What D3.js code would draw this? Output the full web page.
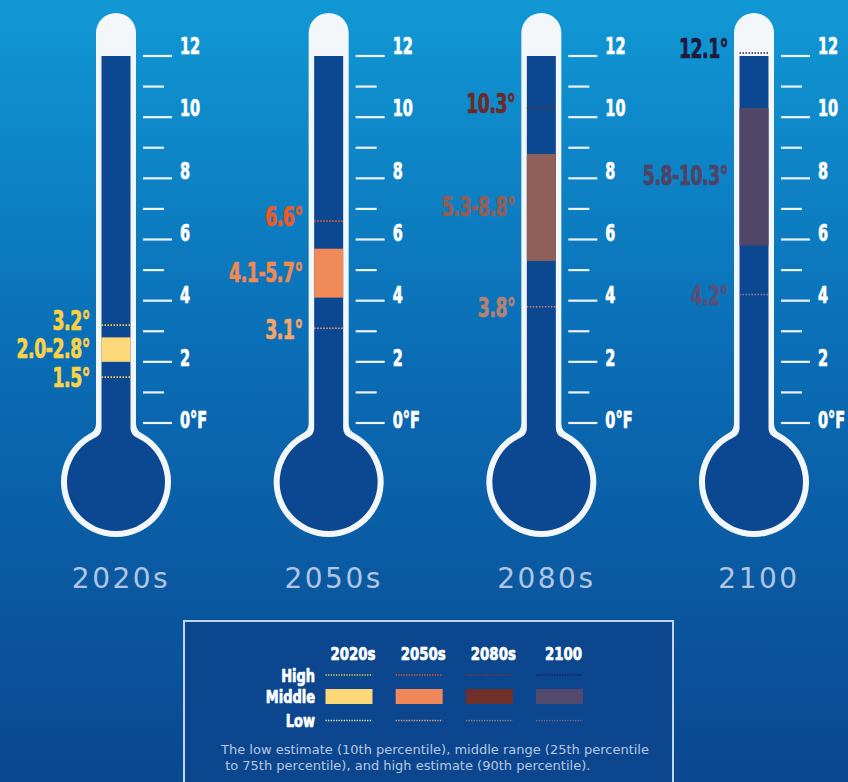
<!DOCTYPE html>
<html>
<head>
<meta charset="utf-8">
<script src="https://cdn.jsdelivr.net/npm/d3@7"></script>
<style>
  html, body { margin: 0; padding: 0; background: #0a4a92; }
  svg { display: block; }
</style>
</head>
<body>
<svg id="chart" width="848" height="782"></svg>
<script>
// ---------- DATA ----------
const periods     = ["2020s", "2050s", "2080s", "2100"];
const lowValues   = [1.5, 3.1, 3.8, 4.2];
const midLow      = [2.0, 4.1, 5.3, 5.8];
const midHigh     = [2.8, 5.7, 8.8, 10.3];
const highValues  = [3.2, 6.6, 10.3, 12.1];
const majorTicks  = [0, 2, 4, 6, 8, 10, 12];
const minorTicks  = [1, 3, 5, 7, 9, 11];
const tickLabels  = ["0°F", "2", "4", "6", "8", "10", "12"];
const legendRows  = ["High", "Middle", "Low"];
const footnote    = ["The low estimate (10th percentile), middle range (25th percentile",
                     " to 75th percentile), and high estimate (90th percentile)."];

// ---------- STYLES ----------
const bandColors      = ["#fdd97a", "#f08b59", "#8f605a", "#514869"];
const swatchColors    = ["#fdd878", "#f0885a", "#6f3029", "#544a6e"];
const highLineColors  = ["#f5d040", "#e8602a", "#6a2a28", "#1c1c44"];
const lowLineColors   = ["#f5d85a", "#f2a672", "#c08878", "#8a84a6"];
const highLabelColors = ["#f9d13e", "#ee5a24", "#6e2a25", "#1d1a3d"];
const midLabelColors  = ["#f8d34a", "#f08a50", "#8f5f58", "#4f4366"];
const lowLabelColors  = ["#f9d447", "#f3a56b", "#b58272", "#57507a"];
const legHighColors   = ["#e8d040", "#e8562a", "#7a3a30", "#1c2248"];
const legLowColors    = ["#f0e8b0", "#f0a070", "#b07a6a", "#7a6a8a"];

const condensed = "'DejaVu Sans Condensed', 'Liberation Sans Narrow', sans-serif";

const svg = d3.select("#chart");
const W = 848, H = 782;

const defs = svg.append("defs");
const grad = defs.append("linearGradient").attr("id", "bg")
  .attr("x1", 0).attr("y1", 0).attr("x2", 0).attr("y2", 1);
grad.append("stop").attr("offset", "0").attr("stop-color", "#1198d5");
grad.append("stop").attr("offset", "0.45").attr("stop-color", "#0a6db5");
grad.append("stop").attr("offset", "1").attr("stop-color", "#0a4890");
svg.append("rect").attr("width", W).attr("height", H).attr("fill", "url(#bg)");

const x = d3.scalePoint().domain(periods).range([116, 754]);
const y = d3.scaleLinear().domain([0, 12]).range([423, 56]);
const yLabel = y.copy().range([y(0) - 3, y(12) - 10.4]);

const tubeTop = 13;
const bulbCY = 482;
const outerW = 20, outerR = 55;
const innerW = 14.5, innerR = 49;

function flaskPath(cx, halfW, R, top, rounded) {
  const yj = bulbCY - Math.sqrt(R * R - halfW * halfW);
  const f = 7;
  const px = halfW + f;
  const py = bulbCY - Math.sqrt(R * R - px * px);
  const p = d3.path();
  if (rounded) {
    p.moveTo(cx - halfW, top + halfW);
    p.arc(cx, top + halfW, halfW, Math.PI, 0);
  } else {
    p.moveTo(cx - halfW, top);
    p.lineTo(cx + halfW, top);
  }
  p.lineTo(cx + halfW, yj - f);
  p.quadraticCurveTo(cx + halfW, yj, cx + px, py);
  const a0 = Math.atan2(py - bulbCY, px);
  const a1 = Math.atan2(py - bulbCY, -px);
  p.arc(cx, bulbCY, R, a0, a1 + 2 * Math.PI, false);
  p.quadraticCurveTo(cx - halfW, yj, cx - halfW, yj - f);
  p.closePath();
  return p.toString();
}

function squeezed(sel, xf, yf, sx) {
  return sel.attr("transform", (d, i) => `translate(${xf(d, i)},${yf(d, i)}) scale(${sx},1)`)
    .attr("font-family", condensed).attr("font-weight", "bold")
    .attr("stroke-width", 0.7).attr("stroke-linejoin", "round");
}

const thermo = svg.selectAll("g.thermo")
  .data(periods.map((p, i) => ({ p, i })))
  .join("g").attr("class", "thermo");

thermo.append("path")
  .attr("d", d => flaskPath(x(d.p), outerW, outerR, tubeTop, true))
  .attr("fill", "#f4f7fa");
thermo.append("path")
  .attr("d", d => flaskPath(x(d.p), innerW, innerR, y(12), false))
  .attr("fill", "#0c4791");

thermo.append("rect")
  .attr("x", d => x(d.p) - innerW)
  .attr("width", innerW * 2)
  .attr("y", d => y(midHigh[d.i]))
  .attr("height", d => y(midLow[d.i]) - y(midHigh[d.i]))
  .attr("fill", d => bandColors[d.i]);

thermo.append("line")
  .attr("x1", d => x(d.p) - innerW).attr("x2", d => x(d.p) + innerW)
  .attr("y1", d => y(highValues[d.i])).attr("y2", d => y(highValues[d.i]))
  .attr("stroke", d => highLineColors[d.i]).attr("stroke-width", 1.6)
  .attr("stroke-dasharray", "1.5 1.5");
thermo.append("line")
  .attr("x1", d => x(d.p) - innerW).attr("x2", d => x(d.p) + innerW)
  .attr("y1", d => y(lowValues[d.i])).attr("y2", d => y(lowValues[d.i]))
  .attr("stroke", d => lowLineColors[d.i]).attr("stroke-width", 1.6)
  .attr("stroke-dasharray", "1.5 1.5");

const tickX0 = 27;
thermo.each(function(d) {
  const g = d3.select(this);
  const cx = x(d.p);
  g.selectAll("line.major").data(majorTicks).join("line").attr("class", "major")
    .attr("x1", cx + tickX0).attr("x2", cx + tickX0 + 29)
    .attr("y1", v => y(v)).attr("y2", v => y(v))
    .attr("stroke", "#eef3f9").attr("stroke-width", 2.2);
  g.selectAll("line.minor").data(minorTicks).join("line").attr("class", "minor")
    .attr("x1", cx + tickX0).attr("x2", cx + tickX0 + 21)
    .attr("y1", v => y(v)).attr("y2", v => y(v))
    .attr("stroke", "#eef3f9").attr("stroke-width", 2.2);
  squeezed(g.selectAll("text.tick").data(majorTicks).join("text").attr("class", "tick"),
      () => cx + 64, v => yLabel(v), 0.7)
    .attr("dy", "0.36em")
    .attr("font-size", 23).attr("fill", "#ffffff").attr("stroke", "#ffffff")
    .text((v, k) => tickLabels[k]);

  const labels = [
    { v: highValues[d.i], off: -4.5, t: highValues[d.i].toFixed(1) + "°", c: highLabelColors[d.i] },
    { v: (midLow[d.i] + midHigh[d.i]) / 2, off: -1, t: midLow[d.i].toFixed(1) + "-" + midHigh[d.i].toFixed(1) + "°", c: midLabelColors[d.i] },
    { v: lowValues[d.i], off: 1, t: lowValues[d.i].toFixed(1) + "°", c: lowLabelColors[d.i] }
  ];
  squeezed(g.selectAll("text.val").data(labels).join("text").attr("class", "val"),
      () => cx - 26, l => y(l.v) + l.off, 0.74)
    .attr("dy", "0.36em")
    .attr("text-anchor", "end")
    .attr("font-size", 26).attr("letter-spacing", -0.6)
    .attr("fill", l => l.c).attr("stroke", l => l.c)
    .text(l => l.t);

  g.append("text")
    .attr("x", cx + 5).attr("y", 578).attr("dy", "0.36em")
    .attr("text-anchor", "middle")
    .attr("font-family", "'DejaVu Sans', sans-serif")
    .attr("font-size", 28).attr("letter-spacing", 2.5)
    .attr("fill", "#b2c5e2")
    .text(d.p);
});

// ---------- LEGEND ----------
const leg = svg.append("g");
leg.append("rect")
  .attr("x", 184).attr("y", 621).attr("width", 489).attr("height", 180)
  .attr("fill", "#0b468e").attr("stroke", "#c3d4ea").attr("stroke-width", 2);

const lx = d3.scalePoint().domain(periods).range([349, 559.5]);
const sw = 47, sh = 15;
const rowY = { High: 675, Middle: 696.5, Low: 720.5 };

squeezed(leg.selectAll("text.hdr").data(periods).join("text").attr("class", "hdr"),
    p => lx(p) + 4, () => 653, 0.8)
  .attr("dy", "0.36em")
  .attr("text-anchor", "middle")
  .attr("font-size", 18.5).attr("fill", "#ffffff").attr("stroke", "#ffffff")
  .text(p => p);

squeezed(leg.selectAll("text.row").data(legendRows).join("text").attr("class", "row"),
    () => 315, r => rowY[r], 0.78)
  .attr("dy", "0.36em")
  .attr("text-anchor", "end")
  .attr("font-size", 18.5).attr("fill", "#ffffff").attr("stroke", "#ffffff")
  .text(r => r);

leg.selectAll("rect.sw").data(periods).join("rect").attr("class", "sw")
  .attr("x", p => lx(p) - sw / 2).attr("y", rowY.Middle - sh / 2)
  .attr("width", sw).attr("height", sh)
  .attr("fill", (p, i) => swatchColors[i]);

leg.selectAll("line.lh").data(periods).join("line").attr("class", "lh")
  .attr("x1", p => lx(p) - sw / 2).attr("x2", p => lx(p) + sw / 2)
  .attr("y1", rowY.High).attr("y2", rowY.High)
  .attr("stroke", (p, i) => legHighColors[i]).attr("stroke-width", 1.4)
  .attr("stroke-dasharray", "1.3 1.3");
leg.selectAll("line.ll").data(periods).join("line").attr("class", "ll")
  .attr("x1", p => lx(p) - sw / 2).attr("x2", p => lx(p) + sw / 2)
  .attr("y1", rowY.Low).attr("y2", rowY.Low)
  .attr("stroke", (p, i) => legLowColors[i]).attr("stroke-width", 1.4)
  .attr("stroke-dasharray", "1.3 1.3");

leg.selectAll("text.fn").data(footnote).join("text").attr("class", "fn")
  .attr("x", 221)
  .attr("y", (t, i) => 754 + i * 16)
  .attr("xml:space", "preserve")
  .style("white-space", "pre")
  .attr("font-family", "'DejaVu Sans', sans-serif")
  .attr("font-size", 13).attr("fill", "#b7c8e3")
  .text(t => t);
</script>
</body>
</html>
